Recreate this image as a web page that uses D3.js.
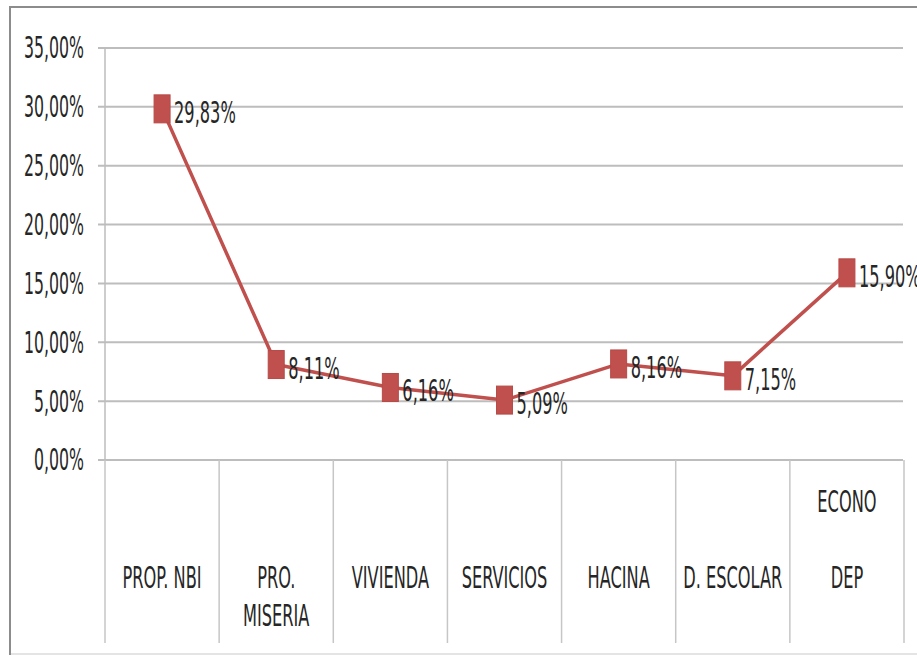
<!DOCTYPE html>
<html>
<head>
<meta charset="utf-8">
<script src="https://cdn.jsdelivr.net/npm/d3@7"></script>
<style>
  body { margin: 0; background: #fff; }
  svg text { font-family: "Liberation Sans Narrow", "DejaVu Sans Condensed", "Arial Narrow", sans-serif; fill: #262626; }
</style>
</head>
<body>
<div id="chart"></div>
<script>
// data
const categories = ["PROP. NBI", "PRO. MISERIA", "VIVIENDA", "SERVICIOS", "HACINA", "D. ESCOLAR", "ECONO DEP"];
const labelLines = [["PROP. NBI"], ["PRO.", "MISERIA"], ["VIVIENDA"], ["SERVICIOS"], ["HACINA"], ["D. ESCOLAR"], ["ECONO", "", "DEP"]];
const values = [0.2983, 0.0811, 0.0616, 0.0509, 0.0816, 0.0715, 0.159];
const yTicks = [0, 0.05, 0.10, 0.15, 0.20, 0.25, 0.30, 0.35];

const width = 917;
const height = 656;
const stretch = 1.72; // the picture is squashed horizontally
const red = "#c0504d";

const svg = d3.select("#chart").append("svg")
  .attr("width", width)
  .attr("height", height);

// outer frame
svg.append("rect")
  .attr("x", 10).attr("y", 7)
  .attr("width", 940).attr("height", 647)
  .attr("fill", "#fff")
  .attr("stroke", "#8c8c8c")
  .attr("stroke-width", 2);
svg.append("line")
  .attr("x1", 11).attr("x2", width)
  .attr("y1", 654).attr("y2", 654)
  .attr("stroke", "#e4e4e4")
  .attr("stroke-width", 2);

const x = d3.scaleBand().domain(categories).range([105, 904]).padding(0);
const y = d3.scaleLinear().domain([0, 0.35]).range([460, 48]);
const fmt = (v) => d3.format(".2f")(v * 100).replace(".", ",") + "%";

// gridlines
svg.append("g")
  .selectAll("line")
  .data(yTicks)
  .join("line")
  .attr("x1", 98).attr("x2", 903)
  .attr("y1", (d) => y(d)).attr("y2", (d) => y(d))
  .attr("stroke", "#bdbdbd")
  .attr("stroke-width", 2);

// value axis line
svg.append("line")
  .attr("x1", x.range()[0]).attr("x2", x.range()[0])
  .attr("y1", y(0.35)).attr("y2", y(0))
  .attr("stroke", "#bdbdbd")
  .attr("stroke-width", 1.5);

// y labels
svg.append("g")
  .selectAll("text")
  .data(yTicks)
  .join("text")
  .attr("transform", (d) => `translate(84,${y(d)}) scale(1,${stretch})`)
  .attr("text-anchor", "end")
  .attr("dominant-baseline", "central")
  .style("font-size", "17.5px")
  .text(fmt);

// category separators
const edges = categories.map((c) => x(c)).concat([x.range()[1]]);
svg.append("g")
  .selectAll("line")
  .data(edges)
  .join("line")
  .attr("x1", (d) => d).attr("x2", (d) => d)
  .attr("y1", y(0)).attr("y2", 643)
  .attr("stroke", "#c6c6c6")
  .attr("stroke-width", 1.5);

// category labels
const lineH = 38;
const cat = svg.append("g")
  .selectAll("g")
  .data(categories)
  .join("g");
cat.each(function (c, i) {
  const lines = labelLines[i];
  const startY = lines.length > 2 ? 577 - (lines.length - 1) * lineH : 577;
  d3.select(this)
    .selectAll("text")
    .data(lines)
    .join("text")
    .attr("transform", (t, j) => `translate(${x(c) + x.bandwidth() / 2},${startY + j * lineH}) scale(1,${stretch})`)
    .attr("text-anchor", "middle")
    .attr("dominant-baseline", "central")
    .style("font-size", "18px")
    .text((t) => t);
});

// series line
const pts = categories.map((c, i) => ({ c, v: values[i] }));
svg.append("path")
  .datum(pts)
  .attr("fill", "none")
  .attr("stroke", red)
  .attr("stroke-width", 3.5)
  .attr("stroke-linejoin", "round")
  .attr("d", d3.line()
    .x((d) => x(d.c) + x.bandwidth() / 2)
    .y((d) => y(d.v)));

// markers
svg.append("g")
  .selectAll("rect")
  .data(pts)
  .join("rect")
  .attr("x", (d) => x(d.c) + x.bandwidth() / 2 - 8)
  .attr("y", (d) => y(d.v) - 14)
  .attr("width", 16)
  .attr("height", 28)
  .attr("fill", red)
  .attr("stroke", "#b84a47")
  .attr("stroke-width", 1);

// data labels
svg.append("g")
  .selectAll("text")
  .data(pts)
  .join("text")
  .attr("transform", (d) => `translate(${x(d.c) + x.bandwidth() / 2 + 12},${y(d.v) + 3}) scale(1,${stretch})`)
  .attr("dominant-baseline", "central")
  .style("font-size", "18px")
  .text((d) => fmt(d.v));
</script>
</body>
</html>
